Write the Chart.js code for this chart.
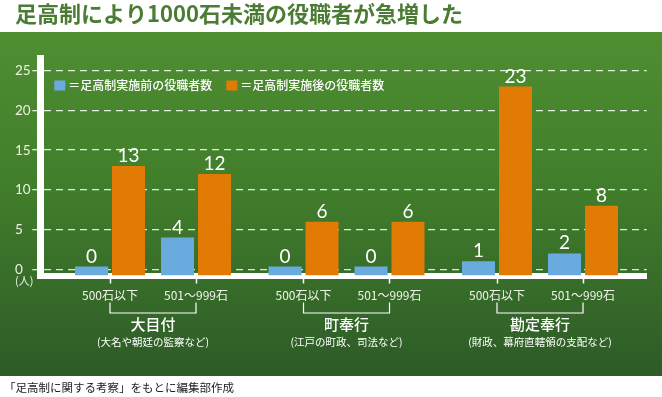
<!DOCTYPE html>
<html><head><meta charset="utf-8">
<script src="https://cdn.jsdelivr.net/npm/chart.js@4.4.1/dist/chart.umd.min.js"></script>
<style>html,body{margin:0;padding:0;background:#fff;}canvas{display:block;}</style>
</head><body>
<canvas id="c" width="662" height="397"></canvas>
<script>
// ---- data ----
const TITLE = '足高制により1000石未満の役職者が急増した';
const SOURCE = '「足高制に関する考察」をもとに編集部作成';
const groups = ['大目付', '町奉行', '勘定奉行'];
const groupNotes = ['(大名や朝廷の監察など)', '(江戸の町政、司法など)', '(財政、幕府直轄領の支配など)'];
const ranks = ['500石以下', '501～999石'];
const seriesNames = ['足高制実施前の役職者数', '足高制実施後の役職者数'];
const beforeCounts = [0, 4, 0, 0, 1, 2];
const afterCounts = [13, 12, 6, 6, 23, 8];
const yTicks = [0, 5, 10, 15, 20, 25];
const unitLabel = '(人)';

// ---- layout / style ----
const FONT_JP = '"Noto Sans CJK JP", "Noto Sans", sans-serif';
const FONT_NUM = 'Lato, "Noto Sans", sans-serif';
const GROUP_STEP = 2.25;
const X_MIN = -0.8105, X_MAX = 6.2405;
const Y_MIN = -0.78, Y_MAX = 26.6;
const COLORS = ['#6aabdf', '#e27b04'];

const tickLabels = [];
groups.forEach(() => ranks.forEach(r => tickLabels.push(r)));
const xPos = i => Math.floor(i / ranks.length) * GROUP_STEP + (i % ranks.length);
const toPoints = arr => arr.map((v, i) => ({ x: xPos(i), y: v }));

const bgPlugin = {
  id: 'bg',
  beforeDraw(chart) {
    const { ctx, width, height } = chart;
    ctx.save();
    ctx.fillStyle = '#ffffff';
    ctx.fillRect(0, 0, width, height);
    const g = ctx.createLinearGradient(0, 32, 0, 376);
    g.addColorStop(0, '#4f8e31');
    g.addColorStop(0.45, '#417e2b');
    g.addColorStop(1, '#2d5b27');
    ctx.fillStyle = g;
    ctx.fillRect(0, 32, width, 344);
    ctx.restore();
  }
};

const labelPlugin = {
  id: 'valueLabels',
  afterDatasetsDraw(chart) {
    const { ctx } = chart;
    ctx.save();
    ctx.fillStyle = '#ffffff';
    ctx.font = '19px ' + FONT_NUM;
    ctx.textAlign = 'center';
    ctx.textBaseline = 'alphabetic';
    chart.data.datasets.forEach((ds, di) => {
      chart.getDatasetMeta(di).data.forEach((bar, i) => {
        ctx.fillText(String(ds.data[i].y), bar.x, bar.y - 4);
      });
    });
    ctx.restore();
  }
};

const decorPlugin = {
  id: 'decor',
  afterDraw(chart) {
    const { ctx, chartArea: ca } = chart;
    const xs = chart.scales.x, ys = chart.scales.y;
    ctx.save();
    // legend
    ctx.font = '500 12px ' + FONT_JP;
    ctx.textAlign = 'left';
    ctx.textBaseline = 'middle';
    let lx = ca.left + 14;
    const ly = ca.top + 27.5;
    chart.data.datasets.forEach(ds => {
      ctx.fillStyle = ds.backgroundColor;
      ctx.fillRect(lx, ly - 5, 11, 10);
      const t = '＝' + ds.label;
      ctx.fillStyle = '#ffffff';
      ctx.fillText(t, lx + 14, ly);
      lx += 14 + ctx.measureText(t).width + 14;
    });
    // unit label
    ctx.font = '11px ' + FONT_JP;
    ctx.fillStyle = '#eef0e6';
    ctx.fillText(unitLabel, ys.left, ys.getPixelForValue(0) + 12);
    // brackets + group labels
    const yb = ca.bottom;
    groups.forEach((g, gi) => {
      const x1 = xs.getPixelForValue(xPos(gi * ranks.length));
      const x2 = xs.getPixelForValue(xPos(gi * ranks.length + ranks.length - 1));
      ctx.strokeStyle = '#ffffff';
      ctx.lineWidth = 1.2;
      ctx.beginPath();
      ctx.moveTo(x1, yb + 27); ctx.lineTo(x1, yb + 37.5);
      ctx.lineTo(x2, yb + 37.5); ctx.lineTo(x2, yb + 27);
      ctx.stroke();
      const cx = (x1 + x2) / 2;
      ctx.fillStyle = '#ffffff';
      ctx.textAlign = 'center';
      ctx.font = '500 15px ' + FONT_JP;
      ctx.fillText(g, cx, yb + 49);
      ctx.font = '10.5px ' + FONT_JP;
      ctx.fillText(groupNotes[gi], cx, yb + 67);
    });
    // source
    ctx.textAlign = 'left';
    ctx.fillStyle = '#222222';
    ctx.font = '11.5px ' + FONT_JP;
    ctx.fillText(SOURCE, 4, 387.5);
    ctx.restore();
  }
};

new Chart(document.getElementById('c'), {
  type: 'bar',
  data: {
    datasets: [
      { label: seriesNames[0], data: toPoints(beforeCounts), backgroundColor: COLORS[0] },
      { label: seriesNames[1], data: toPoints(afterCounts), backgroundColor: COLORS[1] }
    ]
  },
  options: {
    responsive: false,
    animation: false,
    devicePixelRatio: 1,
    layout: { padding: { top: 0, left: 15, right: 15.3, bottom: 21.3 } },
    datasets: {
      bar: { base: Y_MIN, barPercentage: 0.892, categoryPercentage: 0.8605, minBarLength: 9, borderWidth: 0 }
    },
    plugins: {
      legend: { display: false },
      tooltip: { enabled: false },
      title: {
        display: true, text: TITLE, align: 'start', color: '#4b7c34',
        font: { family: FONT_JP, size: 22, weight: 'bold' },
        padding: { top: 0, bottom: 31.6 }
      }
    },
    scales: {
      x: {
        type: 'linear', min: X_MIN, max: X_MAX, offset: false, z: 1,
        afterBuildTicks: s => { s.ticks = tickLabels.map((_, i) => ({ value: xPos(i) })); },
        afterFit: s => { s.height = 100.2; },
        ticks: {
          autoSkip: false, maxRotation: 0, padding: 5, color: '#f2f3ea',
          font: { family: FONT_JP, size: 12 },
          callback: (v, i) => tickLabels[i]
        },
        grid: { display: true, drawOnChartArea: false, drawTicks: true, offset: false,
                tickLength: 8, tickColor: '#ffffff', tickWidth: 1.5, color: '#ffffff' },
        border: { display: true, color: '#ffffff', width: 6 }
      },
      y: {
        min: Y_MIN, max: Y_MAX,
        afterBuildTicks: s => { s.ticks = yTicks.map(v => ({ value: v })); },
        afterFit: s => { s.width = 25.3; },
        ticks: { color: '#eef0e6', padding: 3, crossAlign: 'far', font: { family: FONT_NUM, size: 13.5 } },
        grid: { color: 'rgba(255,255,255,0.85)', lineWidth: 1.3, drawTicks: true, tickLength: 8,
                tickColor: 'rgba(255,255,255,0.85)', tickWidth: 1.3 },
        border: { display: true, color: '#ffffff', width: 7, dash: [7, 5] }
      }
    }
  },
  plugins: [bgPlugin, labelPlugin, decorPlugin]
});
</script>
</body></html>
